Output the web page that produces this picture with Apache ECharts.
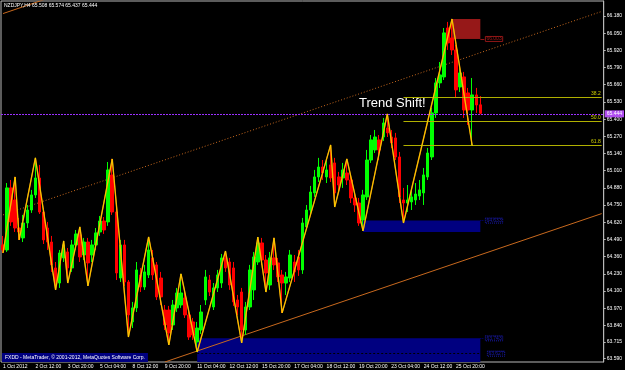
<!DOCTYPE html>
<html><head><meta charset="utf-8">
<script src="https://cdn.jsdelivr.net/npm/echarts@6/dist/echarts.min.js"></script>
<style>html,body{margin:0;padding:0;background:#000;}#c{width:625px;height:370px;}</style>
</head><body><div id="c"></div>
<script>
const symbolTitle = 'NZDJPY,H4 65.508 65.574 65.437 65.444';
const copyright = 'FXDD - MetaTrader, \u00a9 2001-2012, MetaQuotes Software Corp.';
const annotation = 'Trend Shift!';
const timeLabels = ['1 Oct 2012','2 Oct 12:00','3 Oct 20:00','5 Oct 04:00','8 Oct 12:00','9 Oct 20:00','11 Oct 04:00','12 Oct 12:00','15 Oct 20:00','17 Oct 04:00','18 Oct 12:00','19 Oct 20:00','23 Oct 04:00','24 Oct 12:00','25 Oct 20:00'];
const priceTicks = [66.180,66.050,65.920,65.790,65.660,65.530,65.400,65.270,65.140,65.010,64.880,64.750,64.620,64.490,64.360,64.230,64.100,63.970,63.840,63.715,63.590];
// [open, close, low, high]
const candles = [
[64.449,64.411,64.388,64.517],[64.411,64.880,64.396,64.917],[64.880,64.623,64.593,64.940],[64.789,64.577,64.547,64.963],
[64.577,64.547,64.487,64.653],[64.502,64.615,64.471,64.676],[64.615,64.713,64.577,64.751],[64.713,64.827,64.691,64.865],
[64.827,64.955,64.804,65.107],[64.955,64.698,64.683,65.054],[64.698,64.487,64.456,64.729],[64.577,64.471,64.411,64.623],
[64.471,64.298,64.245,64.517],[64.275,64.169,64.109,64.320],[64.161,64.388,64.124,64.411],[64.351,64.449,64.320,64.479],
[64.396,64.275,64.161,64.426],[64.275,64.449,64.245,64.487],[64.449,64.532,64.411,64.562],[64.525,64.358,64.320,64.585],
[64.373,64.471,64.335,64.502],[64.471,64.313,64.139,64.502],[64.373,64.449,64.320,64.487],[64.449,64.540,64.411,64.577],
[64.547,64.630,64.517,64.668],[64.630,64.562,64.532,64.660],[64.623,65.016,64.593,65.076],[64.978,64.698,64.676,65.099],
[64.698,64.237,64.184,64.729],[64.199,64.449,64.169,64.487],[64.449,64.169,64.139,64.487],[64.169,63.920,63.753,64.184],
[63.867,63.973,63.821,64.018],[63.973,64.260,63.942,64.320],[64.222,64.131,64.093,64.275],[64.131,64.245,64.109,64.298],
[64.222,64.411,64.199,64.509],[64.351,64.222,64.184,64.411],[64.298,64.056,64.033,64.320],[64.199,64.056,63.995,64.245],
[63.957,63.844,63.806,63.995],[63.957,63.784,63.693,63.988],[63.844,63.995,63.806,64.033],[63.973,64.086,63.942,64.124],
[63.995,64.086,63.973,64.230],[64.048,63.920,63.897,64.093],[63.920,63.753,63.731,63.942],[63.867,63.768,63.731,63.897],
[63.716,63.821,63.640,63.867],[63.806,63.942,63.776,63.995],[64.033,64.207,63.995,64.260],[64.184,64.093,64.063,64.222],
[63.980,64.124,63.957,64.161],[64.124,64.222,64.093,64.260],[64.161,64.351,64.124,64.381],[64.351,64.275,64.245,64.403],
[64.320,64.146,64.109,64.351],[64.275,64.018,63.988,64.320],[64.033,63.980,63.920,64.071],[64.093,63.806,63.708,64.124],
[63.806,63.980,63.768,64.018],[63.980,64.260,63.957,64.298],[64.109,64.358,64.033,64.396],[64.320,64.464,64.298,64.509],
[64.464,64.335,64.298,64.502],[64.335,64.237,64.093,64.373],[64.146,64.351,64.109,64.396],[64.351,64.298,64.260,64.502],
[64.313,64.207,64.169,64.351],[64.222,64.161,63.935,64.260],[64.161,64.207,64.071,64.245],[64.199,64.373,64.169,64.411],
[64.320,64.245,64.169,64.373],[64.358,64.260,64.215,64.411],[64.260,64.615,64.230,64.653],[64.585,64.713,64.562,64.751],
[64.713,64.849,64.683,64.895],[64.842,64.963,64.812,65.016],[64.963,65.038,64.925,65.107],[65.038,64.993,64.940,65.091],
[64.963,65.016,64.917,65.091],[65.054,64.955,64.925,65.205],[65.069,64.842,64.736,65.107],[64.963,64.902,64.849,65.001],
[64.955,65.016,64.880,65.069],[64.993,64.940,64.902,65.099],[64.940,64.804,64.766,64.978],[64.804,64.751,64.698,64.849],
[64.766,64.615,64.593,64.804],[64.638,64.827,64.555,64.865],[64.812,65.091,64.789,65.167],[65.091,65.243,65.069,65.280],
[65.167,65.265,65.144,65.318],[65.243,65.167,65.091,65.280],[65.265,65.371,65.235,65.409],[65.333,65.296,65.265,65.439],
[65.265,65.220,65.182,65.318],[65.258,65.114,65.091,65.296],[65.114,64.812,64.766,65.152],[64.789,64.766,64.615,64.880],
[64.766,64.789,64.698,64.902],[64.774,64.812,64.713,64.865],[64.789,64.834,64.751,64.917],[64.819,64.865,64.789,64.940],
[64.842,64.978,64.751,65.031],[64.963,65.144,64.940,65.182],[65.114,65.447,65.091,65.485],[65.447,65.674,65.409,65.711],
[65.674,65.734,65.636,65.832],[65.719,66.052,65.696,66.089],[66.089,65.976,65.923,66.135],[66.014,65.923,65.885,66.157],
[65.923,65.621,65.560,65.961],[65.643,65.749,65.605,65.810],[65.719,65.469,65.409,65.757],[65.598,65.469,65.356,65.636],
[65.469,65.583,65.197,65.711],[65.583,65.507,65.447,65.636],[65.508,65.444,65.437,65.574]
];
// zigzag vertices [bar index, price]
const zigzag = [[0,64.388],[3,64.963],[4,64.487],[8,65.107],[13,64.109],[15,64.479],[16,64.161],[19,64.585],[21,64.139],[27,65.099],[31,63.753],[36,64.509],[41,63.693],[44,64.230],[48,63.640],[55,64.403],[59,63.708],[63,64.509],[65,64.093],[67,64.502],[69,63.935],[81,65.205],[82,64.736],[85,65.099],[89,64.555],[95,65.439],[99,64.615],[111,66.157],[116,65.197]];
const channelTop = [[0,66.198],[20,66.406]];
const channelMid = [[0,64.676],[148,66.214]];
const channelBottom = [[40,63.564],[148,64.686]];
const bidPrice = 65.444;
const fibNames = ['38.2','50.0','61.8'];
const fibPrices = [65.568,65.386,65.204];
const fibFrom = 99;
const fibTo = 148;
// zones: [fromBar, toBar, topPrice, bottomPrice]
const zoneSupport = [89,118,64.633,64.547];
const zoneLow = [48,118,63.743,63.564];
const zoneLowMid = 63.627;
const zoneTop = [111,118,66.157,66.006];
const zoneLabels = ['64.633','63.743','63.627','66.003'];

const TOTAL = 149;
const cats = [];
for (let i = 0; i < TOTAL; i++) cats.push(String(i));
const FONT = 'Liberation Sans';
const NAVY = '#000080';
const small = {fontSize:5, fontFamily:FONT};

const chart = echarts.init(document.getElementById('c'), null, {renderer:'canvas'});
chart.setOption({
  backgroundColor:'#000000',
  animation:false,
  title:[
    {text:symbolTitle, left:4, top:3, padding:0, textStyle:Object.assign({color:'#ffffff', fontWeight:'normal'}, small)},
    {text:copyright, left:2, top:353, padding:[2,3,2,3], backgroundColor:NAVY, textStyle:Object.assign({color:'#ffffff', fontWeight:'normal'}, small)},
    {text:annotation, left:359, top:97, padding:0, textStyle:{color:'#ffffff', fontSize:13, fontFamily:FONT, fontWeight:'normal'}}
  ],
  grid:{left:1, right:20, top:1, bottom:8, show:true, borderColor:'#B8B8B8', borderWidth:1, backgroundColor:'transparent'},
  xAxis:{type:'category', data:cats, boundaryGap:true,
    axisLine:{show:false}, axisTick:{show:false}, splitLine:{show:false},
    axisLabel:{interval:(i)=> i % 8 === 0 && i/8 < timeLabels.length, formatter:(v,i)=> timeLabels[i/8] || '', align:'left', color:'#ffffff', fontSize:5, fontFamily:FONT, margin:2}},
  yAxis:{type:'value', position:'right', min:63.564, max:66.293, splitLine:{show:false},
    axisLine:{show:true, lineStyle:{color:'#B8B8B8'}},
    axisTick:{show:true, customValues:priceTicks, length:2, lineStyle:{color:'#B8B8B8'}},
    axisLabel:{customValues:priceTicks, formatter:(v)=> v.toFixed(3), color:'#ffffff', fontSize:5, fontFamily:FONT, margin:3}},
  series:[
    {type:'line', data:channelTop, symbol:'none', clip:true, silent:true, lineStyle:{color:'#C8691E', width:1}, z:1},
    {type:'line', data:channelMid, symbol:'none', clip:true, silent:true, lineStyle:{color:'#C8691E', width:1, type:[1,2]}, z:1},
    {type:'line', data:channelBottom, symbol:'none', clip:true, silent:true, lineStyle:{color:'#C8691E', width:1}, z:1},
    {type:'candlestick', data:candles, barWidth:3, z:3,
      itemStyle:{color:'#00FF00', color0:'#FF0000', borderColor:'#00FF00', borderColor0:'#FF0000', borderWidth:1},
      markArea:{silent:true, z:0, data:[
        [{coord:[zoneSupport[0], zoneSupport[2]], itemStyle:{color:NAVY}}, {coord:[zoneSupport[1], zoneSupport[3]]}],
        [{coord:[zoneLow[0], zoneLow[2]], itemStyle:{color:NAVY}}, {coord:[zoneLow[1], zoneLow[3]]}],
        [{coord:[zoneTop[0], zoneTop[2]], itemStyle:{color:'#961818'}}, {coord:[zoneTop[1], zoneTop[3]]}]
      ]},
      markLine:{silent:true, symbol:['none','none'], data:[
        {yAxis:bidPrice, lineStyle:{color:'#9B30FF', type:[2,1], width:1},
          label:{show:true, position:'end', formatter:bidPrice.toFixed(3), backgroundColor:'#B04CF0', color:'#ffffff', fontSize:5, fontFamily:FONT, padding:[1,2,1,2], distance:1}},
        ...fibPrices.map((p, k) => [
          {coord:[fibFrom, p], lineStyle:{color:'#B0B000', type:'solid', width:1, opacity:1},
            label:{show:true, position:'insideEndTop', formatter:fibNames[k], color:'#D0D000', fontSize:5, fontFamily:FONT, distance:1}},
          {coord:[fibTo, p], lineStyle:{color:'#B0B000', type:'solid', width:1, opacity:1}}]),
        [{coord:[zoneSupport[1], zoneSupport[2]], lineStyle:{color:NAVY, type:[1,1], width:1},
          label:{show:true, position:'end', formatter:zoneLabels[0], color:'#1A1AB0', borderColor:'#1A1AB0', borderType:'dotted', borderWidth:1, padding:[0,1,0,1], fontSize:5, fontFamily:FONT, distance:1}},
         {coord:[zoneSupport[1]+1, zoneSupport[2]]}],
        [{coord:[zoneLow[1], zoneLow[2]], lineStyle:{color:NAVY, type:[1,1], width:1},
          label:{show:true, position:'end', formatter:zoneLabels[1], color:'#1A1AB0', borderColor:'#1A1AB0', borderType:'dotted', borderWidth:1, padding:[0,1,0,1], fontSize:5, fontFamily:FONT, distance:1}},
         {coord:[zoneLow[1]+1, zoneLow[2]]}],
        [{coord:[zoneLow[0], zoneLowMid], lineStyle:{color:'#000000', type:[2,2], width:1},
          label:{show:true, position:'end', formatter:zoneLabels[2], color:'#1A1AB0', borderColor:'#1A1AB0', borderType:'dotted', borderWidth:1, padding:[0,1,0,1], fontSize:5, fontFamily:FONT, distance:3}},
         {coord:[zoneLow[1]+1, zoneLowMid]}],
        [{coord:[zoneTop[1], zoneTop[3]], lineStyle:{color:'#8E1616', type:'solid', width:1},
          label:{show:true, position:'end', formatter:zoneLabels[3], color:'#A01818', borderColor:'#8E1616', borderWidth:1, padding:[0,1,0,1], fontSize:5, fontFamily:FONT, distance:1}},
         {coord:[zoneTop[1]+1, zoneTop[3]]}]
      ]}
    },
    {type:'line', data:zigzag, symbol:'none', clip:true, silent:true, lineStyle:{color:'#E88A00', width:1.4}, z:4},
    {type:'line', data:zigzag, symbol:'none', clip:true, silent:true, lineStyle:{color:'#FFE000', width:0.7}, z:5}
  ]
});
</script></body></html>
